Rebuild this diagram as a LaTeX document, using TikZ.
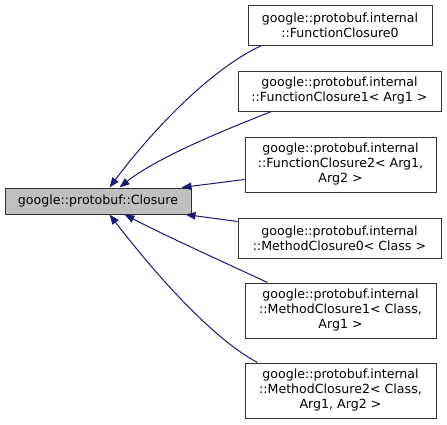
\documentclass[tikz,border=0pt]{standalone}
\usepackage{fontspec}
\setmainfont{DejaVu Sans}
\usetikzlibrary{arrows.meta,calc}
\definecolor{edgeblue}{HTML}{191970}
\definecolor{basegray}{HTML}{BFBFBF}
\tikzset{
  cls/.style={draw=black!80, line width=0.75pt, fill=white, inner sep=0pt, align=center,
    font=\fontsize{9.45}{11.25}\selectfont},
  inh/.style={draw=edgeblue, line width=0.75pt, -{Triangle[length=7.5pt,width=5.6pt]}, fill=none},
}
\begin{document}
\begin{tikzpicture}[x=0.75pt,y=-0.75pt]
\useasboundingbox (0,0) rectangle (447,425);
\node[cls, fill=basegray, minimum width=139.5pt, minimum height=19.5pt] (base) at (98,201) {google::protobuf::Closure};
\node[cls, minimum width=138pt, minimum height=30pt] (fc0) at (340,25) {google::protobuf.internal\\::FunctionClosure0};
\node[cls, minimum width=152.25pt, minimum height=30pt] (fc1) at (339.5,91) {google::protobuf.internal\\::FunctionClosure1\textless{} Arg1 \textgreater};
\node[cls, minimum width=143.25pt, minimum height=41.25pt] (fc2) at (340.5,164.5) {google::protobuf.internal\\::FunctionClosure2\textless{} Arg1,\\Arg2 \textgreater};
\node[cls, minimum width=152.25pt, minimum height=30pt] (mc0) at (339.5,238) {google::protobuf.internal\\::MethodClosure0\textless{} Class \textgreater};
\node[cls, minimum width=143.25pt, minimum height=41.25pt] (mc1) at (340.5,310.5) {google::protobuf.internal\\::MethodClosure1\textless{} Class,\\Arg1 \textgreater};
\node[cls, minimum width=143.25pt, minimum height=41.25pt] (mc2) at (340.5,390.5) {google::protobuf.internal\\::MethodClosure2\textless{} Class,\\Arg1, Arg2 \textgreater};

\draw[inh] ($(fc0.south west)+(14,0)$) .. controls (205,72) and (145,140) .. ($(base.north west)+(105,0)$);
\draw[inh] ($(fc1.south west)+(34,0)$) .. controls (240,124) and (160,155) .. ($(base.north west)+(115,0)$);
\draw[inh] ($(fc2.south west)+(0,-13)$) -- ($(base.north east)+(-10,0)$);
\draw[inh] ($(mc0.north west)+(0,4)$) -- ($(base.south east)+(-6,0)$);
\draw[inh] ($(mc1.north west)+(23,0)$) .. controls (230,265) and (170,238) .. ($(base.south west)+(120,0)$);
\draw[inh] ($(mc2.north west)+(13,0)$) .. controls (215,340) and (160,280) .. ($(base.south west)+(105,0)$);
\end{tikzpicture}
\end{document}
